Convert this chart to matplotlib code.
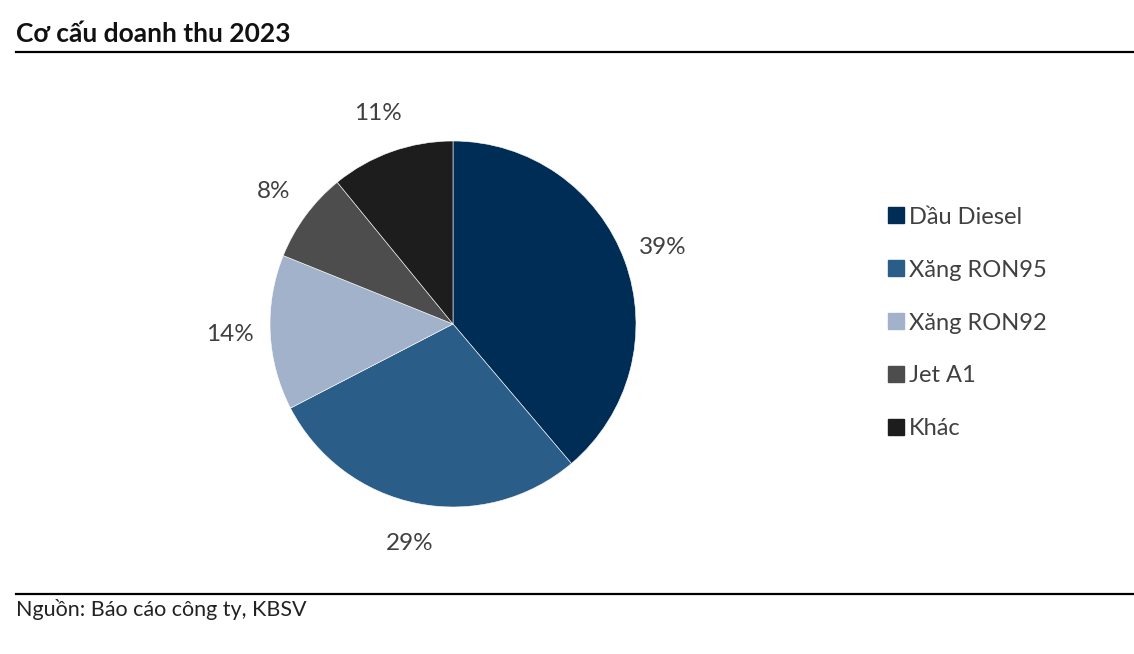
import matplotlib.pyplot as plt
from matplotlib.lines import Line2D

plt.rcParams['font.family'] = ['Lato', 'DejaVu Sans']

# revenue structure 2023 (share, %)
categories = ['Dầu Diesel', 'Xăng RON95', 'Xăng RON92', 'Jet A1', 'Khác']
shares = [38.8, 28.6, 13.7, 8.0, 10.9]
colors = ['#002D56', '#2A5D87', '#A2B2CB', '#4D4D4D', '#1D1D1D']

W, H = 1134, 654
fig = plt.figure(figsize=(W / 100, H / 100), dpi=100)

# pie axes: centre (453, 324), radius 183 px
cx, cy, r = 453, 324, 183
half = r * 1.25
ax = fig.add_axes([(cx - half) / W, (H - cy - half) / H, 2 * half / W, 2 * half / H])
wedges, texts, autotexts = ax.pie(shares, colors=colors, startangle=90, counterclock=False,
                                  autopct='%.0f%%', pctdistance=1.22,
                                  wedgeprops=dict(edgecolor='white', linewidth=0.4))
for t in autotexts:
    t.set_fontsize(17.5)
    t.set_color('#404040')

# legend
handles = [Line2D([], [], marker='s', linestyle='none', markersize=11,
                  markerfacecolor=c, markeredgecolor=c) for c in colors]
leg = fig.legend(handles, categories, loc='center left', bbox_to_anchor=(872 / W, 1 - 323 / H),
                 frameon=False, fontsize=17, handletextpad=0.05, labelspacing=1.35,
                 handlelength=1.0, borderpad=0)
for t in leg.get_texts():
    t.set_color('#404040')

# title and rules
fig.text(16 / W, 1 - 34 / H, 'Cơ cấu doanh thu 2023', fontsize=19, fontweight='bold',
         va='center', ha='left', color='#111111')
fig.add_artist(Line2D([16 / W, 1], [1 - 52 / H] * 2, color='black', linewidth=1.6))
fig.add_artist(Line2D([16 / W, 1], [1 - 594 / H] * 2, color='black', linewidth=1.6))
fig.text(16 / W, 1 - 610 / H, 'Nguồn: Báo cáo công ty, KBSV', fontsize=15.5,
         va='center', ha='left', color='#222222')

fig.savefig('out.png', dpi=100)
